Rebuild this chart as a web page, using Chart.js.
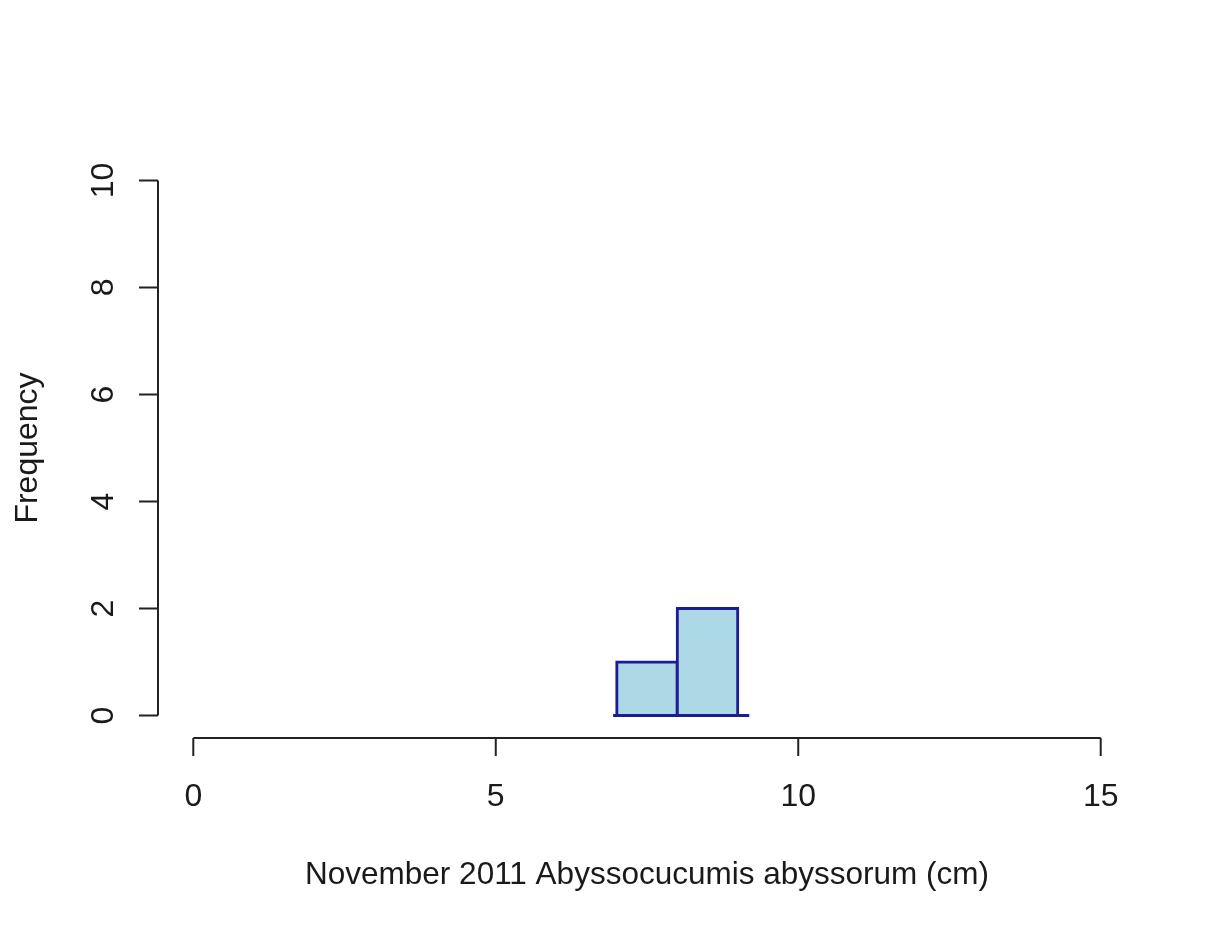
<!DOCTYPE html>
<html>
<head>
<meta charset="utf-8">
<script src="https://cdn.jsdelivr.net/npm/chart.js@4.4.0/dist/chart.umd.min.js"></script>
<style>
  html, body { margin: 0; padding: 0; background: #fff; }
  #wrap { width: 1219px; height: 934px; position: relative; }
</style>
</head>
<body>
<div id="wrap"><canvas id="histChart"></canvas></div>
<script>
// histogram bins (cm) and counts
const binEdges = [7, 8, 9];
const counts = [1, 2];
// short baseline under the bars, as drawn in the original
const baseline = [6.94, 9.19];

const xTicks = [0, 5, 10, 15];
const yTicks = [0, 2, 4, 6, 8, 10];
const xTitle = 'November 2011 Abyssocucumis abyssorum (cm)';
const yTitle = 'Frequency';

const barData = counts.map((c, i) => ({ x: (binEdges[i] + binEdges[i + 1]) / 2, y: c }));
const baseData = baseline.map(v => ({ x: v, y: 0 }));

// R-style axes: offset lines covering only the tick range
const rAxes = {
    id: 'rAxes',
    afterDraw(chart) {
        const ctx = chart.ctx;
        const xs = chart.scales.x;
        const ys = chart.scales.y;
        const area = chart.chartArea;
        const ink = '#1a1a1a';

        ctx.save();
        ctx.strokeStyle = '#222';
        ctx.lineWidth = 2;
        ctx.lineCap = 'butt';

        // x axis
        const xa = area.bottom + 1;
        ctx.beginPath();
        ctx.moveTo(xs.getPixelForValue(xTicks[0]), xa);
        ctx.lineTo(xs.getPixelForValue(xTicks[xTicks.length - 1]), xa);
        xTicks.forEach(t => {
            const px = xs.getPixelForValue(t);
            ctx.moveTo(px, xa);
            ctx.lineTo(px, xa + 18);
        });
        ctx.stroke();

        // y axis
        const ya = area.left + 1;
        ctx.beginPath();
        ctx.moveTo(ya, ys.getPixelForValue(yTicks[0]));
        ctx.lineTo(ya, ys.getPixelForValue(yTicks[yTicks.length - 1]));
        yTicks.forEach(t => {
            const py = ys.getPixelForValue(t);
            ctx.moveTo(ya, py);
            ctx.lineTo(ya - 19, py);
        });
        ctx.stroke();

        ctx.fillStyle = ink;
        ctx.font = '32px "Liberation Sans", Arial, sans-serif';
        ctx.textAlign = 'center';
        ctx.textBaseline = 'alphabetic';
        xTicks.forEach(t => {
            ctx.fillText(String(t), xs.getPixelForValue(t), xa + 68);
        });

        yTicks.forEach(t => {
            ctx.save();
            ctx.translate(ya - 45, ys.getPixelForValue(t));
            ctx.rotate(-Math.PI / 2);
            ctx.fillText(String(t), 0, 0);
            ctx.restore();
        });

        // axis titles
        ctx.save();
        ctx.translate(37, (area.top + area.bottom) / 2);
        ctx.rotate(-Math.PI / 2);
        ctx.fillText(yTitle, 0, 0);
        ctx.restore();

        ctx.font = '31.5px "Liberation Sans", Arial, sans-serif';
        ctx.fillText(xTitle, (area.left + area.right) / 2, 884);
        ctx.restore();
    }
};

new Chart(document.getElementById('histChart').getContext('2d'), {
    type: 'bar',
    data: {
        datasets: [
            {
                type: 'bar',
                label: 'counts',
                data: barData,
                backgroundColor: '#add8e6',
                borderColor: '#1c1c96',
                borderWidth: 3,
                inflateAmount: 1.5,
                borderSkipped: false,
                barPercentage: 1,
                categoryPercentage: 1,
                order: 2
            },
            {
                type: 'line',
                label: 'baseline',
                data: baseData,
                borderColor: '#1c1c96',
                borderWidth: 3,
                pointRadius: 0,
                fill: false,
                order: 1
            }
        ]
    },
    options: {
        responsive: true,
        maintainAspectRatio: false,
        animation: false,
        devicePixelRatio: 1,
        layout: { padding: { left: 157, right: 82, top: 159, bottom: 197 } },
        scales: {
            x: { type: 'linear', min: -0.6, max: 15.6, offset: false, display: false, grid: { display: false, offset: false } },
            y: { type: 'linear', min: -0.4, max: 10.4, display: false, grid: { display: false } }
        },
        plugins: {
            legend: { display: false },
            tooltip: { enabled: false },
            title: { display: false }
        }
    },
    plugins: [rAxes]
});
</script>
</body>
</html>
